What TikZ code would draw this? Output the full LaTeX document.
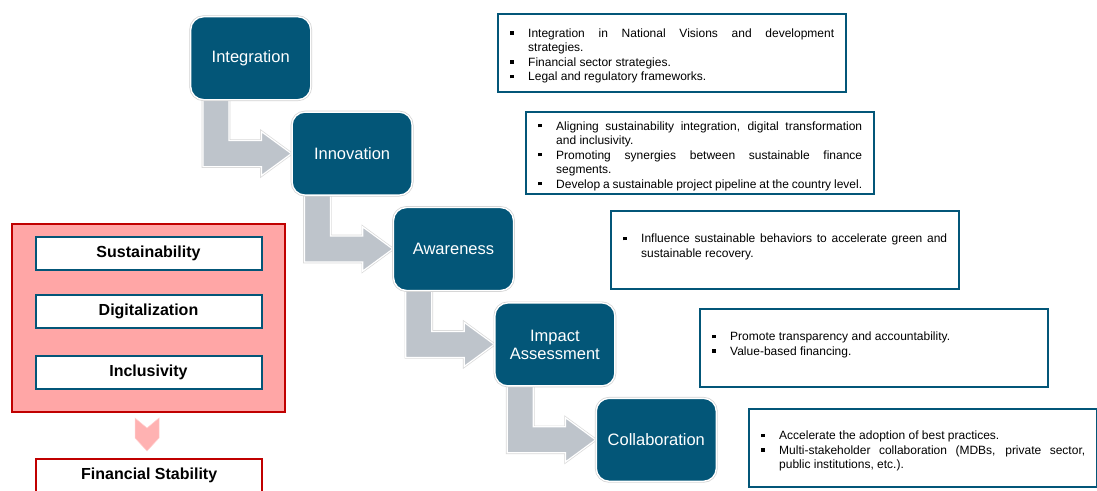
\documentclass[tikz,border=0pt]{standalone}
\usepackage{fontspec}
\setmainfont{Liberation Sans}
\usetikzlibrary{positioning,calc,backgrounds}

\definecolor{stageblue}{RGB}{3,86,120}
\definecolor{arrowgray}{RGB}{190,196,203}
\definecolor{panelpink}{RGB}{255,166,166}
\definecolor{chevpink}{RGB}{255,178,178}
\definecolor{darkred}{RGB}{192,0,0}

\newcommand{\sqbullet}{\rule[0.22em]{3.4pt}{3.4pt}}
\newcommand{\bitem}[1]{\par\noindent\hangindent=18pt\hangafter=1\makebox[18pt][l]{\sqbullet}#1\par}

\begin{document}
\begin{tikzpicture}[x=1pt,y=-1pt,
  stage/.style={rectangle, rounded corners=13pt, fill=stageblue, draw=white, line width=1.4pt,
    preaction={draw=black!18, line width=2.8pt}, minimum width=120pt, minimum height=83pt,
    text=white, align=center, inner sep=2pt, font=\fontsize{16.5}{18}\selectfont},
  infobox/.style={draw=stageblue, line width=2.4pt, fill=white, anchor=north west,
    minimum height=78pt, text width=324pt, inner xsep=12pt, align=justify,
    font=\fontsize{12}{14.5}\selectfont},
  pillar/.style={draw=stageblue, line width=2pt, fill=white, minimum width=226pt,
    minimum height=33pt, font=\bfseries\fontsize{16}{19}\selectfont},
  elbow/.style={fill=arrowgray, draw=white, line width=1.2pt, preaction={draw=black!15, line width=2.6pt}},
  chevron/.style={fill=chevpink, draw=chevpink!60, line width=0.5pt}]
\useasboundingbox (0,0) rectangle (1097,490);
\clip (0,0) rectangle (1097,490);

%Shape: Rounded Rectangles (stages)
\node [stage, anchor=north west] (integ) at (190,16) {Integration};
\node [stage, below right=11pt and -20pt of integ] (innov) {Innovation};
\node [stage, below right=11pt and -20pt of innov] (aware) {Awareness};
\node [stage, below right=11pt and -20pt of aware] (impact) {Impact\\Assessment};
\node [stage, below right=11pt and -20pt of impact] (collab) {Collaboration};

%Shape: Bent Arrows
\begin{scope}[on background layer]
\foreach \a/\b in {integ/innov, innov/aware, aware/impact, impact/collab}
  \path [elbow] let \p1=(\a.south west), \p2=(\b.west) in
    (\x1+13pt,\y1+4pt) -- (\x1+39pt,\y1+4pt) -- (\x1+39pt,\y2+13pt) -- (\x2-30pt,\y2+13pt)
    -- (\x2-30pt,\y2+22pt) -- (\x2,\y2) -- (\x2-30pt,\y2-22pt) -- (\x2-30pt,\y2-13pt)
    -- (\x1+13pt,\y2-13pt) -- cycle ;
\end{scope}

% Text Boxes
\node [infobox] (txtinteg) at (497,13) {%
  \bitem{Integration in National Visions and development\linebreak strategies.}
  \bitem{Financial sector strategies.}
  \bitem{Legal and regulatory frameworks.}};
\node [infobox] (txtinnov) at (525,111) {%
  \bitem{Aligning sustainability integration, digital transformation\linebreak and inclusivity.}
  \bitem{Promoting synergies between sustainable finance\linebreak segments.}
  \bitem{Develop a sustainable project pipeline at the country level.}};
\node [infobox] (txtaware) at (610,210) {%
  \bitem{Influence sustainable behaviors to accelerate green and sustainable recovery.}
  \mbox{}};
\node [infobox] (txtimpact) at (699,308) {%
  \bitem{Promote transparency and accountability.}
  \bitem{Value-based financing.}
  \mbox{}};
\node [infobox] (txtcollab) at (748,408) {%
  \bitem{Accelerate the adoption of best practices.}
  \bitem{Multi-stakeholder collaboration (MDBs, private sector,\linebreak public institutions, etc.).}};

%Shape: Rectangle (left panel)
\node [draw=darkred, line width=2.2pt, fill=panelpink, minimum width=273pt, minimum height=188pt,
  anchor=north west] (panel) at (11,223) {};
\node [pillar] (sust) at (148.5,253) {Sustainability};
\node [pillar, below=23pt of sust] (digit) {Digitalization};
\node [pillar, below=26pt of digit] (incl) {Inclusivity};

%Shape: Chevron
\path [chevron] (135,418) -- (147,428) -- (159,418) -- (159,438) -- (147,451) -- (135,438) -- cycle ;

% Text Node
\node [pillar, draw=darkred, line width=2.4pt, anchor=north west] (finstab) at (35,458) {Financial Stability};

\end{tikzpicture}
\end{document}
